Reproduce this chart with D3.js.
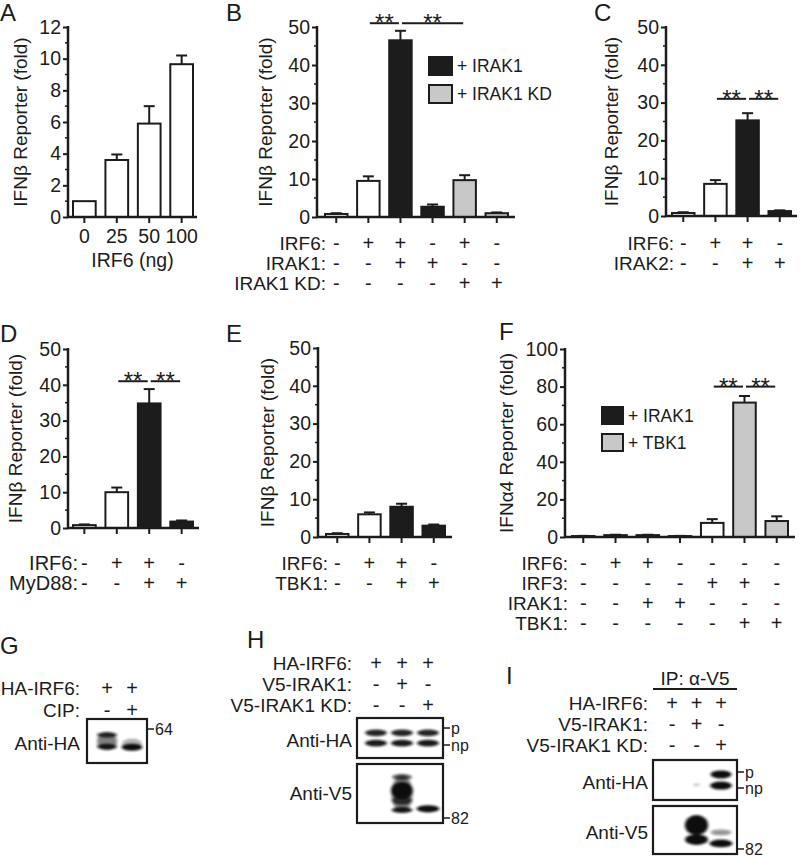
<!DOCTYPE html>
<html><head><meta charset="utf-8">
<script src="https://cdn.jsdelivr.net/npm/d3@7"></script>
<style>
body{margin:0;background:#fff;}
svg{display:block;}
</style></head><body>
<svg id="fig" width="800" height="857"></svg>
<script>
// ---------------- DATA ----------------
// Panel A
const aCategories = ["0","25","50","100"];
const aValues = [1.0, 3.6, 5.9, 9.65];
const aErrors = [0, 0.35, 1.1, 0.55];
const aGroups = ["ctrl","ctrl","ctrl","ctrl"];
const aTicks = [0,2,4,6,8,10,12];
const aMinor = [1,3,5,7,9,11];

// Panel B
const bValues = [0.8, 9.5, 46.5, 2.7, 9.7, 1.0];
const bErrors = [0.2, 1.2, 2.5, 0.6, 1.3, 0.2];
const bGroups = ["ctrl","ctrl","IRAK1","IRAK1","KD","KD"];
const bRowLabels = ["IRF6:","IRAK1:","IRAK1 KD:"];
const bRows = [["-","+","+","-","+","-"],["-","-","+","+","-","-"],["-","-","-","-","+","+"]];
const bSig = [[1,2,51],[2,4,51]];
const bLegend = [["IRAK1","+ IRAK1"],["KD","+ IRAK1 KD"]];

// Panel C
const cValues = [0.8, 8.5, 25.3, 1.3];
const cErrors = [0.2, 1.0, 1.9, 0.2];
const cGroups = ["ctrl","ctrl","IRAK1","IRAK1"];
const cRowLabels = ["IRF6:","IRAK2:"];
const cRows = [["-","+","+","-"],["-","-","+","+"]];
const cSig = [[1,2,31],[2,3,31]];

// Panel D
const dValues = [0.8, 10.0, 34.8, 1.8];
const dErrors = [0.2, 1.3, 4.0, 0.3];
const dGroups = ["ctrl","ctrl","IRAK1","IRAK1"];
const dRowLabels = ["IRF6:","MyD88:"];
const dRows = [["-","+","+","-"],["-","-","+","+"]];
const dSig = [[1,2,41],[2,3,41]];

// Panel E
const eValues = [0.8, 6.0, 8.0, 3.0];
const eErrors = [0.2, 0.5, 0.8, 0.3];
const eGroups = ["ctrl","ctrl","IRAK1","IRAK1"];
const eRowLabels = ["IRF6:","TBK1:"];
const eRows = [["-","+","+","-"],["-","-","+","+"]];

// Panel F
const fValues = [0.5, 1.0, 1.0, 0.5, 7.5, 71.5, 8.5];
const fErrors = [0.1, 0.2, 0.2, 0.1, 2.0, 3.5, 2.5];
const fGroups = ["IRAK1","IRAK1","IRAK1","IRAK1","ctrl","TBK1","TBK1"];
const fRowLabels = ["IRF6:","IRF3:","IRAK1:","TBK1:"];
const fRows = [["-","+","+","-","-","-","-"],["-","-","-","-","+","+","-"],["-","-","+","+","-","-","-"],["-","-","-","-","-","+","+"]];
const fSig = [[4,5,80],[5,6,80]];
const fLegend = [["IRAK1","+ IRAK1"],["TBK1","+ TBK1"]];

const tens50 = [0,10,20,30,40,50];
const minor50 = [5,15,25,35,45];
const tens100 = [0,20,40,60,80,100];
const minor100 = [10,30,50,70,90];

// Blots: bands {lane, m (relative migration 0-1), h (thickness), w (width frac), a (intensity)}
const gRowLabels = ["HA-IRF6:","CIP:"];
const gRows = [["+","+"],["-","+"]];
const gBands = [
  {lane:0,m:0.50,h:0.42,w:0.95,a:0.55},
  {lane:0,m:0.36,h:0.12,w:0.95,a:0.85},
  {lane:0,m:0.63,h:0.13,w:0.95,a:0.95},
  {lane:1,m:0.56,h:0.22,w:0.95,a:0.35},
  {lane:1,m:0.64,h:0.16,w:1.0,a:1.0}
];
const hRowLabels = ["HA-IRF6:","V5-IRAK1:","V5-IRAK1 KD:"];
const hRows = [["+","+","+"],["-","+","-"],["-","-","+"]];
const hHaBands = [
  {lane:0,m:0.37,h:0.17,w:1.0,a:0.9},{lane:0,m:0.63,h:0.17,w:1.0,a:0.95},
  {lane:1,m:0.37,h:0.17,w:1.0,a:0.9},{lane:1,m:0.63,h:0.17,w:1.0,a:0.95},
  {lane:2,m:0.37,h:0.17,w:1.0,a:0.9},{lane:2,m:0.63,h:0.17,w:1.0,a:0.95}
];
const hV5Bands = [
  {lane:1,m:0.50,h:0.62,w:0.95,a:0.55},
  {lane:1,m:0.22,h:0.10,w:0.9,a:0.7},
  {lane:1,m:0.45,h:0.30,w:1.0,a:1.0},
  {lane:1,m:0.62,h:0.14,w:0.95,a:0.75},
  {lane:1,m:0.78,h:0.10,w:0.95,a:0.95},
  {lane:2,m:0.76,h:0.12,w:1.05,a:1.0}
];
const iRowLabels = ["HA-IRF6:","V5-IRAK1:","V5-IRAK1 KD:"];
const iRows = [["+","+","+"],["-","+","-"],["-","-","+"]];
const iHaBands = [
  {lane:1,m:0.62,h:0.06,w:0.3,a:0.25},
  {lane:2,m:0.36,h:0.2,w:0.95,a:1.0},
  {lane:2,m:0.64,h:0.2,w:1.0,a:1.0}
];
const iV5Bands = [
  {lane:1,m:0.40,h:0.42,w:1.05,a:1.0},
  {lane:1,m:0.70,h:0.22,w:1.05,a:1.0},
  {lane:2,m:0.55,h:0.12,w:0.95,a:0.45},
  {lane:2,m:0.78,h:0.16,w:1.05,a:1.0}
];

// ---------------- DRAWING ----------------
const FONT = "'Liberation Sans', Arial, Helvetica, sans-serif";
const INK = "#1c1c1c";
const fillOf = {ctrl:"#ffffff", IRAK1:"#1c1c1c", KD:"#c8c8c8", TBK1:"#c8c8c8"};
const svg = d3.select("#fig").attr("font-family", FONT);
svg.append("rect").attr("width",800).attr("height",857).attr("fill","#fff");
const defs = svg.append("defs");
defs.append("filter").attr("id","blur").attr("x","-50%").attr("y","-50%").attr("width","200%").attr("height","200%")
  .append("feGaussianBlur").attr("stdDeviation","1.6 1.3");

function txt(g, x, y, s, size, anchor){
  return g.append("text").attr("x",x).attr("y",y).attr("font-size",size||18)
    .attr("text-anchor",anchor||"start").attr("dominant-baseline","central").attr("fill",INK).text(s);
}

function barPanel(o){
  const g = svg.append("g");
  const y = d3.scaleLinear().domain([0,o.max]).range([o.y0,o.yTop]);
  const x = d3.scaleBand().domain(d3.range(o.values.length)).range([o.bx0,o.bx1]).paddingInner(0.3).paddingOuter(0);
  const cx = i => x(i) + x.bandwidth()/2;

  const yAx = g.append("g").attr("transform",`translate(${o.ax},0)`)
    .call(d3.axisLeft(y).tickValues(o.ticks).tickSize(5).tickPadding(2).tickFormat(d3.format("d")));
  yAx.attr("font-family",FONT).attr("font-size",19.5);
  yAx.select(".domain").remove();
  yAx.selectAll(".tick line").attr("stroke",INK).attr("stroke-width",2);
  yAx.selectAll(".tick text").attr("fill",INK);
  g.selectAll(".minor").data(o.minor).join("line")
    .attr("x1",o.ax-3).attr("x2",o.ax).attr("y1",d=>y(d)).attr("y2",d=>y(d))
    .attr("stroke",INK).attr("stroke-width",1.5);

  const xAx = g.append("g").attr("transform",`translate(0,${o.y0})`)
    .call(d3.axisBottom(x).tickSize(6).tickPadding(6).tickFormat(i => o.cats ? o.cats[i] : ""));
  xAx.attr("font-family",FONT).attr("font-size",19.5);
  xAx.select(".domain").remove();
  xAx.selectAll(".tick line").attr("stroke",INK).attr("stroke-width",2);
  xAx.selectAll(".tick text").attr("fill",INK);

  // bars
  g.selectAll(".bar").data(o.values).join("rect")
    .attr("x",(d,i)=>x(i)).attr("width",x.bandwidth())
    .attr("y",d=>y(d)).attr("height",d=>o.y0-y(d))
    .attr("fill",(d,i)=>fillOf[o.groups[i]]).attr("stroke",INK).attr("stroke-width",2);
  // error bars
  o.values.forEach((v,i)=>{
    const e = o.errors[i];
    if(e<=0) return;
    g.append("line").attr("x1",cx(i)).attr("x2",cx(i)).attr("y1",y(v)).attr("y2",y(v+e)).attr("stroke",INK).attr("stroke-width",2);
    g.append("line").attr("x1",cx(i)-5.5).attr("x2",cx(i)+5.5).attr("y1",y(v+e)).attr("y2",y(v+e)).attr("stroke",INK).attr("stroke-width",2);
  });
  // axis lines
  g.append("path").attr("d",`M${o.ax},${o.yTop-1}V${o.y0}H${o.axEnd}`)
    .attr("fill","none").attr("stroke",INK).attr("stroke-width",2.5);
  // significance
  (o.sig||[]).forEach(([i,j,lev])=>{
    const x1 = cx(i)+1.5, x2 = cx(j)-1.5, yy = y(lev);
    g.append("line").attr("x1",x1).attr("x2",x2).attr("y1",yy).attr("y2",yy).attr("stroke",INK).attr("stroke-width",2);
    g.append("text").attr("x",(x1+x2)/2).attr("y",yy+8).attr("text-anchor","middle")
      .attr("font-size",24).attr("fill",INK).text("**");
  });
  // y title
  g.append("text").attr("transform",`translate(${o.titleX},${(o.y0+o.yTop)/2}) rotate(-90)`)
    .attr("text-anchor","middle").attr("dominant-baseline","central").attr("font-size",19).attr("fill",INK).text(o.title);
  // letter
  g.append("text").attr("x",o.letterX).attr("y",o.letterY).attr("font-size",24).attr("fill",INK).text(o.letter);
  // x title
  if(o.xTitle) txt(g,(o.ax+o.axEnd)/2,o.xTitleY,o.xTitle,19.5,"middle");
  // rows
  (o.rows||[]).forEach((row,r)=>{
    const yy = o.rowYs[r];
    txt(g,o.labelX,yy,o.rowLabels[r],o.rowSize||19,"end");
    row.forEach((s,i)=> txt(g,cx(i),yy,s,20,"middle"));
  });
  // legend
  if(o.legend){
    o.legend.forEach(([grp,label],k)=>{
      const ly = o.legendY + k*o.legendStep;
      g.append("rect").attr("x",o.legendX).attr("y",ly).attr("width",o.legendW).attr("height",o.legendH)
        .attr("fill",fillOf[grp]).attr("stroke",INK).attr("stroke-width",2);
      txt(g,o.legendX+o.legendW+5,ly+o.legendH/2,label,17.5,"start");
    });
  }
}

barPanel({values:aValues,errors:aErrors,groups:aGroups,cats:aCategories,max:12,ticks:aTicks,minor:aMinor,
  ax:68,axEnd:197,y0:217,yTop:27,bx0:73,bx1:193,title:"IFNβ Reporter (fold)",titleX:20,
  letter:"A",letterX:0,letterY:21,xTitle:"IRF6 (ng)",xTitleY:260});
barPanel({values:bValues,errors:bErrors,groups:bGroups,max:50,ticks:tens50,minor:minor50,
  ax:317,axEnd:515,y0:217,yTop:27,bx0:325,bx1:508,title:"IFNβ Reporter (fold)",titleX:265,
  letter:"B",letterX:226,letterY:21,sig:bSig,rows:bRows,rowLabels:bRowLabels,rowYs:[243,263,283],labelX:326,
  legend:bLegend,legendX:429,legendY:57,legendStep:28,legendW:23,legendH:18});
barPanel({values:cValues,errors:cErrors,groups:cGroups,max:50,ticks:tens50,minor:minor50,
  ax:666,axEnd:797,y0:216,yTop:27,bx0:672,bx1:791,title:"IFNβ Reporter (fold)",titleX:611,
  letter:"C",letterX:594,letterY:21,sig:cSig,rows:cRows,rowLabels:cRowLabels,rowYs:[243,263],labelX:674});
barPanel({values:dValues,errors:dErrors,groups:dGroups,max:50,ticks:tens50,minor:minor50,
  ax:68,axEnd:199,y0:528,yTop:349,bx0:73,bx1:193,title:"IFNβ Reporter (fold)",titleX:15,
  letter:"D",letterX:0,letterY:342,sig:dSig,rows:dRows,rowLabels:dRowLabels,rowYs:[563,583],labelX:78,rowSize:20});
barPanel({values:eValues,errors:eErrors,groups:eGroups,max:50,ticks:tens50,minor:minor50,
  ax:318,axEnd:452,y0:537,yTop:348,bx0:326,bx1:445,title:"IFNβ Reporter (fold)",titleX:267,
  letter:"E",letterX:226,letterY:342,rows:eRows,rowLabels:eRowLabels,rowYs:[563,583],labelX:328});
barPanel({values:fValues,errors:fErrors,groups:fGroups,max:100,ticks:tens100,minor:minor100,
  ax:565,axEnd:795,y0:537,yTop:349,bx0:572,bx1:788,title:"IFNα4 Reporter (fold)",titleX:506,
  letter:"F",letterX:499,letterY:340,sig:fSig,rows:fRows,rowLabels:fRowLabels,rowYs:[563,583,603,623],labelX:568,rowSize:19,
  legend:fLegend,legendX:602,legendY:407,legendStep:27,legendW:21,legendH:17});

// ---------- blots ----------
function blotBox(g, lanes, box, bands, laneW){
  const yy = d3.scaleLinear().domain([0,1]).range([box.y0,box.y1]);
  const gb = g.append("g").attr("filter","url(#blur)");
  bands.forEach(b=>{
    gb.append("ellipse").attr("cx",lanes(b.lane)).attr("cy",yy(b.m))
      .attr("rx",laneW/2*b.w).attr("ry",(box.y1-box.y0)*b.h/2)
      .attr("fill","#111").attr("fill-opacity",b.a);
  });
  g.append("rect").attr("x",box.x0).attr("y",box.y0).attr("width",box.x1-box.x0).attr("height",box.y1-box.y0)
    .attr("fill","none").attr("stroke",INK).attr("stroke-width",2.2);
}
function marker(g, x, y, label){
  g.append("line").attr("x1",x).attr("x2",x+6).attr("y1",y).attr("y2",y).attr("stroke",INK).attr("stroke-width",1.5);
  txt(g,x+7,y,label,16,"start");
}
function blotPanel(o){
  const g = svg.append("g");
  const lanes = d3.scalePoint().domain(d3.range(o.rows[0].length)).range([o.signX[0], o.signX[o.signX.length-1]]);
  o.rows.forEach((row,r)=>{
    txt(g,o.labelX,o.rowYs[r],o.rowLabels[r],19,"end");
    row.forEach((s,i)=>txt(g,lanes(i),o.rowYs[r],s,20,"middle"));
  });
  o.boxes.forEach(b=>{
    blotBox(g,lanes,b.box,b.bands,o.laneW);
    txt(g,o.labelX,b.labelY,b.label,19,"end");
    (b.markers||[]).forEach(([yv,lab])=>marker(g,b.box.x1+1,yv,lab));
  });
  g.append("text").attr("x",o.letterX).attr("y",o.letterY).attr("font-size",24).attr("fill",INK).text(o.letter);
  if(o.ip){
    txt(g,(o.boxes[0].box.x0+o.boxes[0].box.x1)/2,o.ip.y,o.ip.text,19,"middle");
    g.append("line").attr("x1",o.boxes[0].box.x0).attr("x2",o.boxes[0].box.x1).attr("y1",o.ip.lineY).attr("y2",o.ip.lineY)
      .attr("stroke",INK).attr("stroke-width",2);
  }
}
blotPanel({letter:"G",letterX:0,letterY:654,rows:gRows,rowLabels:gRowLabels,rowYs:[688,710],labelX:80,signX:[107,132],laneW:21,
  boxes:[{box:{x0:87,x1:147,y0:719,y1:763},bands:gBands,label:"Anti-HA",labelY:743,markers:[[729,"64"]]}]});
blotPanel({letter:"H",letterX:247,letterY:648,rows:hRows,rowLabels:hRowLabels,rowYs:[663,684,705],labelX:352,signX:[376,402,428],laneW:22,
  boxes:[{box:{x0:357,x1:443,y0:718,y1:758},bands:hHaBands,label:"Anti-HA",labelY:740,markers:[[728,"p"],[745,"np"]]},
         {box:{x0:357,x1:443,y0:764,y1:823},bands:hV5Bands,label:"Anti-V5",labelY:793,markers:[[818,"82"]]}]});
blotPanel({letter:"I",letterX:506,letterY:684,rows:iRows,rowLabels:iRowLabels,rowYs:[703,724,745],labelX:648,signX:[672,697,721],laneW:22,
  ip:{text:"IP: α-V5",y:678,lineY:689},
  boxes:[{box:{x0:653,x1:737,y0:760,y1:800},bands:iHaBands,label:"Anti-HA",labelY:782,markers:[[772,"p"],[788,"np"]]},
         {box:{x0:653,x1:737,y0:806,y1:854},bands:iV5Bands,label:"Anti-V5",labelY:832,markers:[[849,"82"]]}]});
</script>
</body></html>
